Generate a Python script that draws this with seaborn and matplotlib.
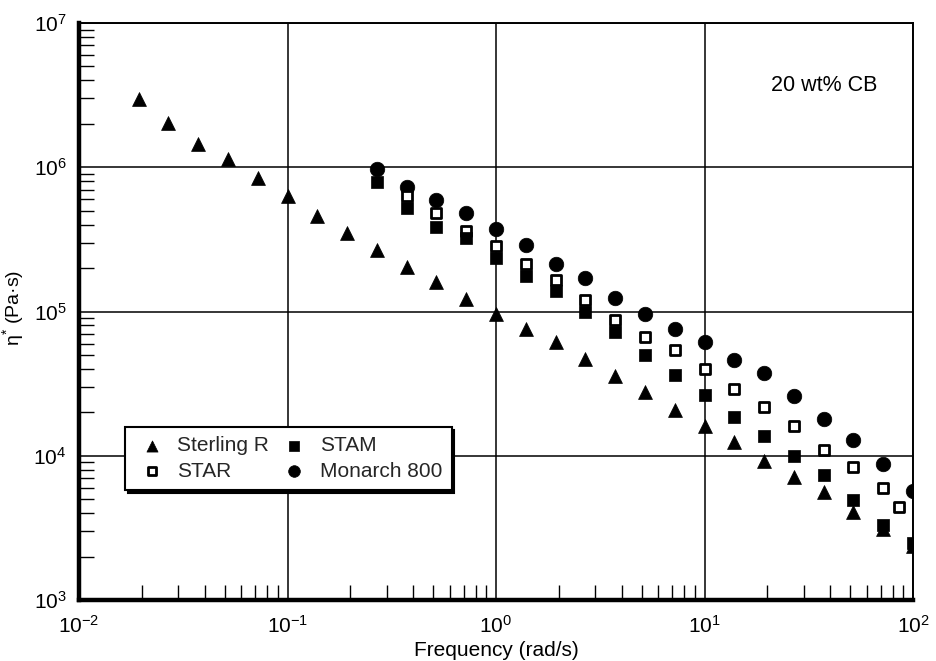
import numpy as np
import pandas as pd
import matplotlib
matplotlib.use("Agg")
import matplotlib.pyplot as plt
from matplotlib.ticker import LogLocator, NullFormatter, FixedLocator
import seaborn as sns

# ---- data ----
freq_sterling = [0.0193, 0.0268, 0.0373, 0.0518, 0.0720, 0.100, 0.139, 0.193, 0.268,
                 0.373, 0.518, 0.720, 1.00, 1.39, 1.93, 2.68, 3.73, 5.18, 7.20, 10.0,
                 13.9, 19.3, 26.8, 37.3, 51.8, 72.0, 100.0]
eta_sterling = [2.96e6, 2.04e6, 1.45e6, 1.14e6, 8.4e5, 6.27e5, 4.6e5, 3.52e5, 2.68e5,
                2.02e5, 1.61e5, 1.22e5, 9.6e4, 7.6e4, 6.1e4, 4.7e4, 3.6e4, 2.75e4,
                2.08e4, 1.62e4, 1.24e4, 9.2e3, 7.1e3, 5.6e3, 4.07e3, 3.1e3, 2.38e3]

freq_star = [0.373, 0.518, 0.720, 1.00, 1.39, 1.93, 2.68, 3.73, 5.18, 7.20, 10.0,
             13.9, 19.3, 26.8, 37.3, 51.8, 72.0, 86.0]
eta_star = [6.27e5, 4.81e5, 3.64e5, 2.85e5, 2.14e5, 1.66e5, 1.2e5, 8.75e4, 6.7e4,
            5.43e4, 4.0e4, 2.9e4, 2.17e4, 1.61e4, 1.09e4, 8.4e3, 6.0e3, 4.4e3]

freq_stam = [0.268, 0.373, 0.518, 0.720, 1.00, 1.39, 1.93, 2.68, 3.73, 5.18, 7.20,
             10.0, 13.9, 19.3, 26.8, 37.3, 51.8, 72.0, 100.0]
eta_stam = [7.96e5, 5.2e5, 3.88e5, 3.23e5, 2.35e5, 1.77e5, 1.38e5, 1.0e5, 7.26e4,
            5.0e4, 3.64e4, 2.62e4, 1.87e4, 1.36e4, 1.0e4, 7.4e3, 4.95e3, 3.3e3, 2.48e3]

freq_monarch = [0.268, 0.373, 0.518, 0.720, 1.00, 1.39, 1.93, 2.68, 3.73, 5.18, 7.20,
                10.0, 13.9, 19.3, 26.8, 37.3, 51.8, 72.0, 100.0]
eta_monarch = [9.7e5, 7.35e5, 5.94e5, 4.81e5, 3.72e5, 2.9e5, 2.14e5, 1.70e5, 1.25e5,
               9.6e4, 7.6e4, 6.1e4, 4.6e4, 3.74e4, 2.6e4, 1.8e4, 1.28e4, 8.75e3, 5.7e3]

x_ticks = [1e-2, 1e-1, 1e0, 1e1, 1e2]
x_tick_labels = ["$10^{-2}$", "$10^{-1}$", "$10^{0}$", "$10^{1}$", "$10^{2}$"]
y_ticks = [1e3, 1e4, 1e5, 1e6, 1e7]
y_tick_labels = ["$10^{3}$", "$10^{4}$", "$10^{5}$", "$10^{6}$", "$10^{7}$"]

# ---- styling ----
sns.set_theme(style="white")
plt.rcParams["font.family"] = ["Liberation Sans", "DejaVu Sans"]
plt.rcParams["mathtext.default"] = "regular"
plt.rcParams["axes.unicode_minus"] = False

fig = plt.figure(figsize=(9.37, 6.61), dpi=100)
ax = fig.add_axes([79 / 937, 1 - 600 / 661, 834 / 937, 577 / 661])
ax.set_xscale("log")
ax.set_yscale("log")

df_s = pd.DataFrame({"f": freq_sterling, "eta": eta_sterling})
df_r = pd.DataFrame({"f": freq_star, "eta": eta_star})
df_m = pd.DataFrame({"f": freq_stam, "eta": eta_stam})
df_c = pd.DataFrame({"f": freq_monarch, "eta": eta_monarch})

sns.scatterplot(data=df_s, x="f", y="eta", marker="^", s=100, color="black",
                edgecolor="black", linewidth=0.5, ax=ax, label="Sterling R", zorder=3)
sns.scatterplot(data=df_r, x="f", y="eta", marker="s", s=62, facecolor="white",
                edgecolor="black", linewidth=2.0, ax=ax, label="STAR", zorder=4)
sns.scatterplot(data=df_m, x="f", y="eta", marker="s", s=70, color="black",
                edgecolor="black", linewidth=0.5, ax=ax, label="STAM", zorder=5)
sns.scatterplot(data=df_c, x="f", y="eta", marker="o", s=110, color="black",
                edgecolor="black", linewidth=0.5, ax=ax, label="Monarch 800", zorder=3)

ax.set_xlim(1e-2, 1e2)
ax.set_ylim(1e3, 1e7)

ax.xaxis.set_major_locator(FixedLocator(x_ticks))
ax.yaxis.set_major_locator(FixedLocator(y_ticks))
ax.set_xticklabels(x_tick_labels)
ax.set_yticklabels(y_tick_labels)
ax.xaxis.set_minor_locator(LogLocator(base=10, subs=np.arange(2, 10), numticks=20))
ax.yaxis.set_minor_locator(LogLocator(base=10, subs=np.arange(2, 10), numticks=20))
ax.xaxis.set_minor_formatter(NullFormatter())
ax.yaxis.set_minor_formatter(NullFormatter())

ax.tick_params(axis="both", which="major", length=0, labelsize=15, colors="black")
ax.tick_params(axis="y", which="major", pad=9)
ax.tick_params(axis="x", which="major", pad=11)
ax.tick_params(axis="both", which="minor", direction="in", length=11, width=1.0,
               color="black", bottom=True, left=True, top=False, right=False)

ax.grid(True, which="major", color="black", linewidth=1.1)
ax.grid(False, which="minor")

for side, lw in [("left", 3.2), ("bottom", 3.2), ("top", 1.4), ("right", 1.4)]:
    ax.spines[side].set_visible(True)
    ax.spines[side].set_color("black")
    ax.spines[side].set_linewidth(lw)

ax.set_xlabel("Frequency (rad/s)", fontsize=15, color="black", labelpad=3)
ax.set_ylabel("η$^{*}$ (Pa·s)", fontsize=14, color="black")
ax.yaxis.set_label_coords(-0.064, 0.506)

ax.text(0.894, 0.891, "20 wt% CB", transform=ax.transAxes, fontsize=15.5,
        ha="center", va="center", color="black")

handles, labels = ax.get_legend_handles_labels()
order = [labels.index(n) for n in ["Sterling R", "STAR", "STAM", "Monarch 800"]]
leg = ax.legend([handles[i] for i in order], [labels[i] for i in order], ncol=2,
                loc="upper left", bbox_to_anchor=(0.055, 0.30), borderaxespad=0,
                fontsize=15, frameon=True, fancybox=False, framealpha=1,
                edgecolor="black",
                shadow={"facecolor": "black", "edgecolor": "black", "alpha": 1},
                handlelength=1.7, handletextpad=0.37, columnspacing=0.36,
                borderpad=0.45, labelspacing=0.3, markerscale=0.8)
leg.get_frame().set_linewidth(1.5)
leg.set_zorder(10)

fig.savefig("out.png", dpi=100)
